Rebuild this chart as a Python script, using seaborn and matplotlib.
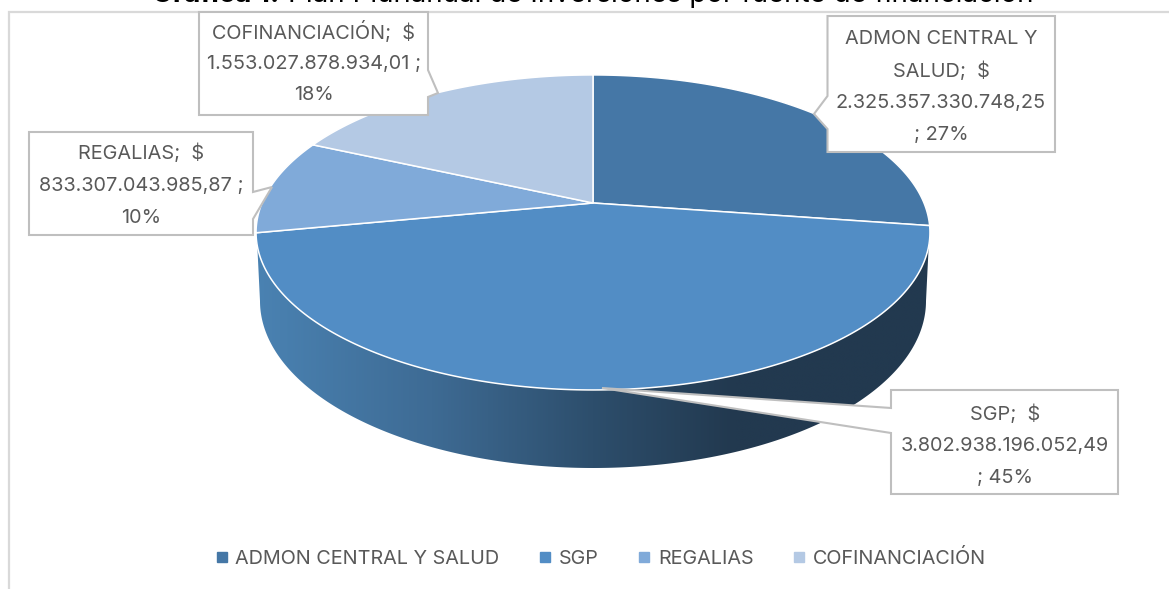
import numpy as np
import matplotlib
matplotlib.use("Agg")
import matplotlib.pyplot as plt
from matplotlib.colors import LinearSegmentedColormap
from matplotlib.lines import Line2D
from matplotlib.patches import Polygon
import seaborn as sns

# ---------- data ----------
categories = ["ADMON CENTRAL Y SALUD", "SGP", "REGALIAS", "COFINANCIACIÓN"]
values = [2325357330748.25, 3802938196052.49, 833307043985.87, 1553027878934.01]
slice_colors = ["#4577a6", "#528dc5", "#80aad9", "#b4c9e4"]
label_lines = [
    ["ADMON CENTRAL Y", "SALUD;  $", "2.325.357.330.748,25", "; 27%"],
    ["SGP;  $", "3.802.938.196.052,49", "; 45%"],
    ["REGALIAS;  $", "833.307.043.985,87 ;", "10%"],
    ["COFINANCIACIÓN;  $", "1.553.027.878.934,01 ;", "18%"],
]
title_bold = "Gráfica 1."
title_rest = "Plan Plurianual de Inversiones por fuente de financiación"

# ---------- style ----------
sns.set_theme(style="white")
plt.rcParams["font.family"] = ["Inter", "DejaVu Sans"]
palette = sns.color_palette(slice_colors)
TXT = "#595959"
EDGE = "#bfbfbf"

W, H = 1169, 589
fig = plt.figure(figsize=(W / 100, H / 100), dpi=100, facecolor="white")
ax = fig.add_axes([0, 0, 1, 1])
ax.set_axis_off()

# ---------- perspective pie geometry ----------
CX, CY, RX, RY, K = 593, 203, 331, 152, 0.187


def project(u, v):
    d = 1 + K * v
    return CX + RX * u / d, CY - RY * v / d


def rim(a0, a1, n=200):
    t = np.radians(np.linspace(a0, a1, n))
    return project(np.sin(t), np.cos(t))


# front wall with horizontal shading
BX, BY, BRX, BRY = 593, 301, 333, 167
tx, ty = rim(90 + 8.5, 270 - 8.5, 300)  # front rim of the top face
bt = np.radians(np.linspace(180, 0, 300))
bx, by = BX + BRX * np.cos(bt), BY + BRY * np.sin(bt)
wall_xy = np.column_stack([np.r_[tx, bx], np.r_[ty, by]])
wall = Polygon(wall_xy, closed=True, facecolor="none", edgecolor="none", transform=ax.transData)
ax.add_patch(wall)
cmap = LinearSegmentedColormap.from_list(
    "wall",
    [(0.0, "#4a82b2"), (0.26, "#3e6b94"), (0.50, "#2d4e6c"), (0.71, "#22394f"), (1.0, "#22394f")],
)
img = ax.imshow(np.linspace(0, 1, 512)[None, :], extent=(256, 930, 480, 220),
                cmap=cmap, aspect="auto", zorder=1, interpolation="bilinear")
img.set_clip_path(wall)

# top face
angles = np.r_[0, np.cumsum(values) / np.sum(values) * 360]
for i, colour in enumerate(palette):
    x, y = rim(angles[i], angles[i + 1])
    ax.fill(np.r_[CX, x], np.r_[CY, y], facecolor=colour, edgecolor="white", linewidth=1.1,
            joinstyle="round", zorder=2)

# ---------- chart frame ----------
ax.plot([8.5, 8.5, W], [H, 11.5, 11.5], color="#d9d9d9", lw=1.6, zorder=0.5, solid_joinstyle="miter")

# ---------- data-label callouts (box, pointer, text centre, first line, line step) ----------
callouts = [
    ([(827.5, 16), (1055, 16), (1055, 152), (827.5, 152), (827.5, 129), (814, 114), (827.5, 96)], 941, 39, 32, 0),
    ([(891, 390), (1118, 390), (1118, 494), (891, 494), (891, 433), (602, 388), (891, 408)], 1005, 414, 32, 1),
    ([(29, 132), (253, 132), (253, 192), (272, 187), (253, 219), (253, 235), (29, 235)], 141, 153, 32.5, 2),
    ([(199, 12), (428, 12), (428, 70), (438, 93), (428, 97), (428, 115), (199, 115)], 314, 31.5, 32, 3),
]
for pts, tcx, y0, step, idx in callouts:
    ax.add_patch(Polygon(pts, closed=True, facecolor="white", edgecolor=EDGE, linewidth=1.5,
                         joinstyle="miter", zorder=3))
    for j, line in enumerate(label_lines[idx]):
        ax.text(tcx, y0 + j * step, line, ha="center", va="center", fontsize=14.3, color=TXT, zorder=4)

# ---------- title (cut by the top edge, as in the source) ----------
ax.text(152, 2.5, title_bold, ha="left", va="baseline", fontsize=20, fontweight="bold", color="black")
ax.text(288, 2.5, title_rest, ha="left", va="baseline", fontsize=20, color="black")

ax.set_xlim(0, W)
ax.set_ylim(H, 0)

# ---------- legend ----------
handles = [Line2D([], [], linestyle="none", marker="s", markersize=6.5, color=c) for c in palette]
fig.legend(handles, categories, loc="center", bbox_to_anchor=(599 / W, 1 - 558.5 / H), ncol=4,
           frameon=False, fontsize=14.25, labelcolor=TXT, handletextpad=0.2, columnspacing=1.8,
           handlelength=1.0)

fig.savefig("out.png", dpi=100, facecolor="white")
